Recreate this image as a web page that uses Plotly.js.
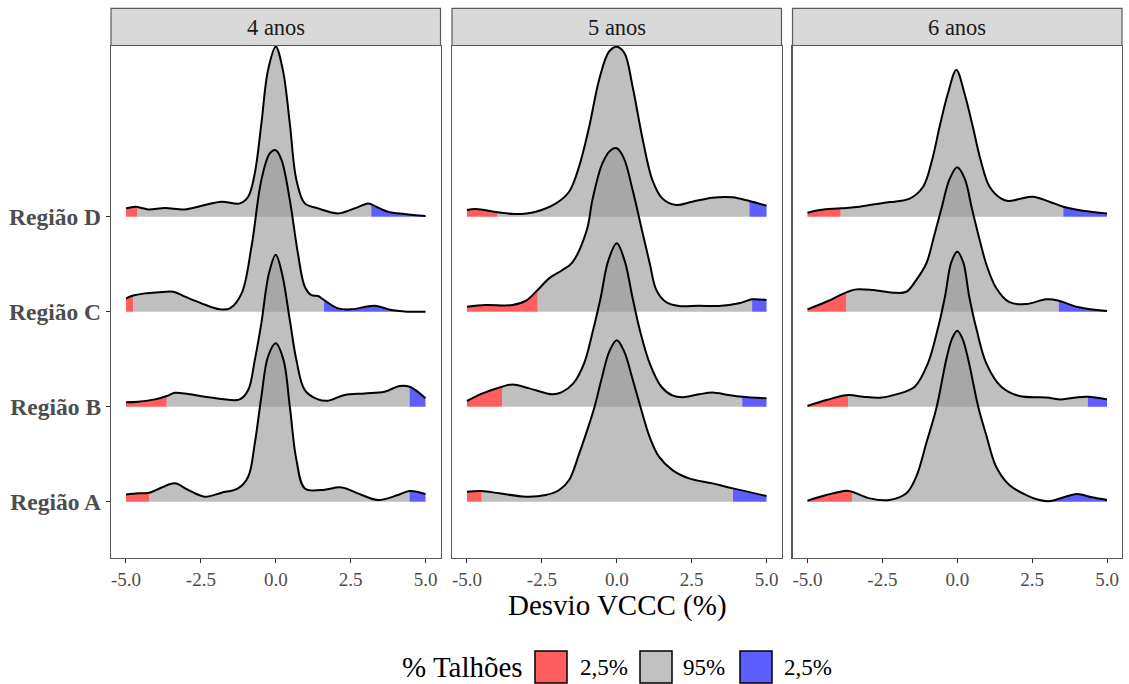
<!DOCTYPE html>
<html>
<head>
<meta charset="utf-8">
<script src="https://cdn.plot.ly/plotly-3.0.1.min.js"></script>
<style>html,body{margin:0;padding:0;background:#fff;}#chart{width:1129px;height:684px;}</style>
</head>
<body>
<div id="chart"></div>
<script>
// ---------- data ----------
const years = ["4 anos", "5 anos", "6 anos"];
const regions = ["Região A", "Região B", "Região C", "Região D"];
const xTicks = [-5, -2.5, 0, 2.5, 5];
const xTickText = ["-5.0", "-2.5", "0.0", "2.5", "5.0"];
const legendLabels = ["2,5%", "95%", "2,5%"];

// 4 anos
const x4A = [-5, -4.59, -4.22, -3.81, -3.37, -2.92, -2.37, -1.81, -1.26, -0.92, -0.7, -0.48, -0.26, 0, 0.26, 0.47, 0.69, 0.97, 1.52, 2.2, 2.74, 3.41, 4.08, 4.47, 5];
const h4A = [0.077, 0.088, 0.095, 0.15, 0.193, 0.123, 0.053, 0.095, 0.14, 0.263, 0.614, 1.105, 1.526, 1.667, 1.49, 1.0, 0.44, 0.14, 0.123, 0.15, 0.088, 0.018, 0.07, 0.112, 0.08];
const x4B = [-5, -4.59, -4.03, -3.64, -3.37, -2.92, -2.37, -1.81, -1.2, -0.92, -0.7, -0.48, -0.23, 0, 0.21, 0.47, 0.69, 0.97, 1.41, 1.74, 2.3, 2.97, 3.63, 4.13, 4.47, 5];
const h4B = [0.046, 0.053, 0.077, 0.112, 0.147, 0.133, 0.105, 0.081, 0.077, 0.175, 0.49, 0.88, 1.40, 1.60, 1.40, 0.912, 0.49, 0.175, 0.077, 0.063, 0.123, 0.14, 0.158, 0.218, 0.21, 0.088];
const x4C = [-5, -4.81, -4.76, -4.37, -3.92, -3.42, -3.03, -2.48, -1.87, -1.53, -1.14, -0.81, -0.48, -0.2, 0, 0.19, 0.47, 0.74, 0.97, 1.19, 1.41, 1.61, 2.08, 2.52, 3.3, 3.86, 4.3, 5];
const h4C = [0.14, 0.165, 0.17, 0.193, 0.204, 0.21, 0.158, 0.088, 0.025, 0.035, 0.193, 0.684, 1.386, 1.667, 1.70, 1.60, 1.175, 0.614, 0.263, 0.175, 0.165, 0.123, 0.035, 0.025, 0.063, 0.018, 0.003, 0.0];
const x4D = [-5, -4.7, -4.62, -4.26, -3.7, -3.03, -2.37, -1.81, -1.2, -0.92, -0.7, -0.48, -0.26, 0, 0.24, 0.47, 0.69, 0.97, 1.41, 2.08, 2.63, 3.08, 3.19, 3.74, 4.3, 5];
const h4D = [0.088, 0.105, 0.102, 0.077, 0.091, 0.077, 0.123, 0.158, 0.14, 0.21, 0.456, 0.98, 1.54, 1.79, 1.54, 0.98, 0.386, 0.14, 0.088, 0.035, 0.088, 0.14, 0.13, 0.053, 0.028, 0.007];
const lo4 = [-4.22, -3.64, -4.76, -4.62];
const hi4 = [4.47, 4.47, 1.61, 3.19];

// 5 anos
const x5A = [-5, -4.51, -3.92, -3.03, -2.37, -1.92, -1.59, -1.26, -1.0, -0.74, -0.5, -0.25, 0, 0.25, 0.52, 0.79, 1.1, 1.41, 1.86, 2.41, 3.19, 3.88, 5];
const h5A = [0.105, 0.112, 0.088, 0.053, 0.07, 0.123, 0.228, 0.50, 0.74, 1.0, 1.3, 1.58, 1.70, 1.58, 1.3, 1.0, 0.68, 0.474, 0.333, 0.246, 0.193, 0.14, 0.06];
const x5B = [-5, -4.48, -3.83, -3.48, -2.92, -2.14, -1.85, -1.45, -1.09, -0.79, -0.53, -0.29, 0, 0.27, 0.52, 0.77, 1.1, 1.49, 1.85, 2.2, 2.74, 3.19, 3.74, 4.19, 5];
const h5B = [0.06, 0.14, 0.21, 0.235, 0.193, 0.13, 0.15, 0.246, 0.457, 0.807, 1.158, 1.53, 1.72, 1.53, 1.158, 0.807, 0.457, 0.21, 0.12, 0.1, 0.13, 0.15, 0.123, 0.105, 0.088];
const x5C = [-5, -4.37, -3.48, -3.03, -2.64, -2.26, -1.81, -1.48, -1.0, -0.81, -0.48, -0.2, 0, 0.24, 0.53, 0.84, 1.1, 1.32, 1.63, 2.08, 2.74, 3.41, 4.08, 4.52, 5];
const h5C = [0.053, 0.07, 0.07, 0.116, 0.228, 0.351, 0.439, 0.52, 0.86, 1.18, 1.561, 1.70, 1.72, 1.614, 1.28, 0.86, 0.51, 0.23, 0.105, 0.06, 0.063, 0.06, 0.088, 0.13, 0.123];
const x5D = [-5, -4.7, -3.98, -3.37, -2.7, -2.03, -1.59, -1.26, -0.92, -0.59, -0.26, 0, 0.26, 0.53, 0.87, 1.19, 1.52, 1.97, 2.52, 3.19, 3.86, 4.43, 5];
const h5D = [0.07, 0.081, 0.046, 0.028, 0.053, 0.14, 0.263, 0.526, 0.947, 1.439, 1.737, 1.79, 1.72, 1.368, 0.807, 0.386, 0.193, 0.123, 0.158, 0.2, 0.204, 0.165, 0.116];
const lo5 = [-4.51, -3.83, -2.64, -3.98];
const hi5 = [3.88, 4.19, 4.52, 4.43];

// 6 anos
const x6A = [-5, -4.37, -3.7, -3.51, -2.92, -2.26, -1.7, -1.37, -1.03, -0.7, -0.35, -0.17, 0, 0.17, 0.35, 0.7, 0.97, 1.3, 1.74, 2.3, 2.74, 3.11, 3.61, 4.0, 4.5, 5];
const h6A = [0.01, 0.07, 0.116, 0.105, 0.035, 0.018, 0.088, 0.263, 0.62, 0.98, 1.52, 1.72, 1.8, 1.72, 1.52, 1.0, 0.7, 0.368, 0.175, 0.07, 0.018, 0.007, 0.053, 0.08, 0.046, 0.018];
const x6B = [-5, -4.37, -3.64, -3.14, -2.59, -2.03, -1.42, -0.98, -0.66, -0.41, -0.2, 0, 0.2, 0.4, 0.65, 0.97, 1.47, 2.08, 2.97, 3.47, 3.97, 4.36, 5];
const h6B = [0.007, 0.07, 0.123, 0.105, 0.095, 0.13, 0.21, 0.457, 0.807, 1.158, 1.52, 1.63, 1.52, 1.158, 0.807, 0.457, 0.21, 0.112, 0.098, 0.077, 0.098, 0.105, 0.077];
const x6C = [-5, -4.37, -3.7, -3.37, -2.81, -2.14, -1.7, -1.37, -1.03, -0.78, -0.54, -0.25, 0, 0.25, 0.5, 0.72, 0.97, 1.3, 1.74, 2.3, 2.97, 3.39, 3.97, 5];
const h6C = [0.025, 0.105, 0.204, 0.235, 0.228, 0.2, 0.21, 0.333, 0.51, 0.79, 1.07, 1.40, 1.52, 1.40, 1.07, 0.79, 0.5, 0.25, 0.1, 0.08, 0.13, 0.116, 0.053, 0.007];
const x6D = [-5, -4.59, -3.89, -3.26, -2.37, -2.09, -1.59, -1.14, -0.84, -0.59, -0.31, -0.03, 0.24, 0.52, 0.78, 1.08, 1.47, 1.7, 2.08, 2.52, 3.08, 3.54, 4.19, 5];
const h6D = [0.042, 0.07, 0.088, 0.105, 0.15, 0.158, 0.19, 0.316, 0.597, 0.947, 1.30, 1.544, 1.30, 0.947, 0.597, 0.316, 0.19, 0.165, 0.186, 0.21, 0.158, 0.105, 0.063, 0.035];
const lo6 = [-3.51, -3.64, -3.7, -3.89];
const hi6 = [3.11, 4.36, 3.39, 3.54];

// ---------- styling ----------
const FONT = "Liberation Serif, Times New Roman, serif";
const RED = "rgba(255,0,0,0.63)";
const GREY = "rgba(153,153,153,0.63)";
const BLUE = "rgba(0,0,255,0.63)";
const BORDER = "#5a5a5a";
const W = 1129, H = 684;

const panels = [
  {xs: [x4A, x4B, x4C, x4D], hs: [h4A, h4B, h4C, h4D], lo: lo4, hi: hi4},
  {xs: [x5A, x5B, x5C, x5D], hs: [h5A, h5B, h5C, h5D], lo: lo5, hi: hi5},
  {xs: [x6A, x6B, x6C, x6D], hs: [h6A, h6B, h6C, h6D], lo: lo6, hi: hi6}
];

const traces = [];
panels.forEach((p, pi) => {
  const xa = pi === 0 ? "x" : "x" + (pi + 1);
  const ya = pi === 0 ? "y" : "y" + (pi + 1);
  for (let r = 3; r >= 0; r--) {           // top ridge first, lower ridges drawn over
    const base = r + 1;
    const xs = p.xs[r], hs = p.hs[r];
    const iLo = xs.indexOf(p.lo[r]), iHi = xs.indexOf(p.hi[r]);
    const segs = [[0, iLo, RED], [iLo, iHi, GREY], [iHi, xs.length - 1, BLUE]];
    segs.forEach(([a, b, col]) => {
      traces.push({x: [xs[a], xs[b]], y: [base, base], xaxis: xa, yaxis: ya, mode: "lines",
        line: {width: 0}, hoverinfo: "skip", showlegend: false});
      traces.push({x: xs.slice(a, b + 1), y: hs.slice(a, b + 1).map(h => h + base), xaxis: xa, yaxis: ya,
        mode: "lines", line: {width: 0, shape: "spline", smoothing: 1}, fill: "tonexty", fillcolor: col,
        hoverinfo: "skip", showlegend: false});
    });
    traces.push({x: xs, y: hs.map(h => h + base), xaxis: xa, yaxis: ya, mode: "lines",
      line: {color: "#000", width: 2, shape: "spline", smoothing: 1}, hoverinfo: "skip", showlegend: false});
  }
});

const xDomains = [[111 / W, 440.5 / W], [452 / W, 781.5 / W], [792.5 / W, 1122 / W]];
const yDomain = [(H - 557.7) / H, (H - 46) / H];
const yRange = [0.4105, 5.797];

const layout = {
  width: W, height: H,
  margin: {l: 0, r: 0, t: 0, b: 0},
  paper_bgcolor: "#fff", plot_bgcolor: "#fff",
  font: {family: FONT, color: "#4d4d4d"},
  showlegend: false,
  shapes: [], annotations: []
};

xDomains.forEach((d, i) => {
  const sx = i === 0 ? "" : String(i + 1);
  layout["xaxis" + sx] = {
    domain: d, anchor: "y" + sx, range: [-5.5, 5.5], showgrid: false, zeroline: false,
    tickmode: "array", tickvals: xTicks, ticktext: xTickText, ticks: "outside", ticklen: 4,
    tickcolor: "#333", tickwidth: 1, tickfont: {family: FONT, size: 19, color: "#4d4d4d"},
    showline: true, mirror: true, linecolor: BORDER, linewidth: 1.2, fixedrange: true
  };
  layout["yaxis" + sx] = {
    domain: yDomain, anchor: "x" + sx, range: yRange, showgrid: false, zeroline: false,
    tickmode: "array", tickvals: [1, 2, 3, 4],
    ticktext: regions.map(r => "<b>" + r + "</b>"),
    showticklabels: i === 0, ticks: i === 0 ? "outside" : "", ticklen: 4, tickcolor: "#333", tickwidth: 1,
    tickfont: {family: FONT, size: 23.5, color: "#4d4d4d"},
    showline: true, mirror: true, linecolor: BORDER, linewidth: 1.2, fixedrange: true
  };
  // facet strip
  layout.shapes.push({type: "rect", xref: "x" + sx + " domain", yref: "paper", x0: 0, x1: 1,
    y0: (H - 45.5) / H, y1: (H - 8.3) / H, fillcolor: "#d9d9d9", line: {color: BORDER, width: 1.2}, layer: "above"});
  layout.annotations.push({xref: "x" + sx + " domain", yref: "paper", x: 0.5, y: (H - 27) / H,
    text: years[i], showarrow: false, xanchor: "center", yanchor: "middle",
    font: {family: FONT, size: 22.5, color: "#1a1a1a"}});
});

// axis title
layout.annotations.push({xref: "paper", yref: "paper", x: 617 / W, y: (H - 605) / H, text: "Desvio VCCC (%)",
  showarrow: false, xanchor: "center", yanchor: "middle", font: {family: FONT, size: 29, color: "#000"}});

// legend (bottom)
layout.annotations.push({xref: "paper", yref: "paper", x: 462 / W, y: (H - 667) / H, text: "% Talhões",
  showarrow: false, xanchor: "center", yanchor: "middle", font: {family: FONT, size: 29, color: "#000"}});
const keyCols = ["#ff5e5e", "#c1c1c1", "#5e5eff"];
const keyX = [535, 640, 740];
const labX = [604, 704, 807.5];
keyCols.forEach((c, i) => {
  layout.shapes.push({type: "rect", xref: "paper", yref: "paper", x0: keyX[i] / W, x1: (keyX[i] + 32) / W,
    y0: (H - 683) / H, y1: (H - 651) / H, fillcolor: c, line: {color: "#000", width: 1.5}});
  layout.annotations.push({xref: "paper", yref: "paper", x: labX[i] / W, y: (H - 667) / H, text: legendLabels[i],
    showarrow: false, xanchor: "center", yanchor: "middle", font: {family: FONT, size: 23, color: "#000"}});
});

Plotly.newPlot("chart", traces, layout, {displayModeBar: false, staticPlot: true});
</script>
</body>
</html>
